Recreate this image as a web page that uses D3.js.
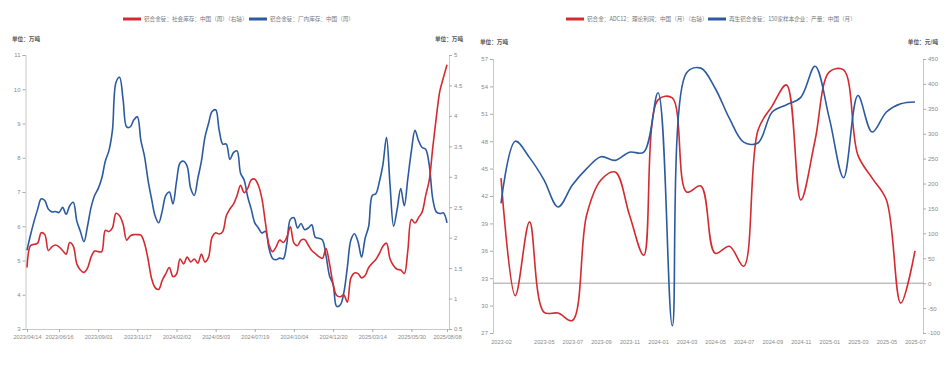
<!DOCTYPE html>
<html lang="zh">
<head>
<meta charset="UTF-8">
<script src="https://cdn.jsdelivr.net/npm/d3@7"></script>
<title>铝合金锭库存 / ADC12 利润与产量</title>
<style>
  body { margin: 0; background: #fff; }
  text { font-family: "Noto Sans CJK SC", "Liberation Sans", sans-serif; }
</style>
</head>
<body>
<script>
// ---------- 左图：铝合金锭库存（周） ----------
var weekStart1 = "2023/04/14"
var weekEnd1 = "2025/08/08"
var skipWeeks1 = ["2024/02/09", "2024/02/16", "2025/01/31"]   // 春节停更
var tickLabels1 = ["2023/04/14", "2023/06/16", "2023/09/01", "2023/11/17", "2024/02/02", "2024/05/03",
                   "2024/07/19", "2024/10/04", "2024/12/20", "2025/03/14", "2025/05/30", "2025/08/08"]
// 社会库存（右轴），万吨
var social1 = [1.51, 1.87, 1.89, 1.91, 2.08, 2.05, 1.79, 1.85, 1.88, 1.85,
               1.79, 1.73, 1.92, 1.86, 1.57, 1.47, 1.43, 1.5, 1.68, 1.78,
               1.77, 1.77, 2.12, 2.1, 2.16, 2.4, 2.36, 2.22, 1.96, 2.03,
               2.05, 2.05, 2.04, 1.91, 1.65, 1.33, 1.18, 1.15, 1.3, 1.41,
               1.51, 1.36, 1.4, 1.65, 1.57, 1.68, 1.6, 1.65, 1.58, 1.73,
               1.6, 1.68, 2.01, 2.08, 2.06, 2.1,
               2.36, 2.47, 2.55, 2.69, 2.86, 2.74, 2.81, 2.95, 2.96, 2.86,
               2.64, 2.24, 1.88, 1.77, 1.85, 1.96, 1.92, 2.01, 2.18, 1.91,
               1.87, 1.96, 1.97, 1.88, 1.79, 1.74, 1.69, 1.66, 1.82, 1.57,
               1.24, 1.05, 1.03, 1.06, 0.94, 1.34, 1.42, 1.41, 1.34, 1.38,
               1.51, 1.58, 1.64, 1.74, 1.86, 1.91, 1.65, 1.54, 1.48, 1.47,
               1.41, 1.79, 2.3, 2.24, 2.33, 2.42, 2.69, 2.94, 3.48, 3.98,
               4.41, 4.63, 4.84]
// 厂内库存（左轴），万吨
var factory1 = [5.3, 5.75, 6.15, 6.5, 6.8, 6.75, 6.5, 6.42, 6.43, 6.4,
                6.55, 6.35, 6.6, 6.7, 6.15, 5.85, 5.55, 6.0, 6.55, 6.9,
                7.1, 7.4, 7.9, 8.2, 8.8, 10.2, 10.35, 9.7, 8.9, 8.9,
                9.1, 9.2, 8.5, 8.05, 7.35, 6.8, 6.3, 6.1, 6.45, 6.9,
                7.0, 6.65, 7.3, 7.85, 7.9, 7.75, 7.1, 6.9, 7.4, 7.9,
                8.6, 9.0, 9.35, 9.4, 8.8, 8.4,
                8.4, 7.95, 8.15, 8.2, 7.55, 7.35, 6.86, 6.5, 6.1, 5.95,
                5.8, 5.85, 5.35, 5.06, 5.02, 5.07, 5.05, 5.5, 6.2, 6.25,
                5.95, 6.08, 5.9, 5.95, 6.04, 5.68, 5.65, 5.6, 5.15, 4.55,
                4.3, 3.66, 3.7, 4.05, 4.8, 5.6, 5.78, 5.55, 5.1, 5.65,
                6.0, 6.9, 6.95, 7.3, 7.8, 8.6, 7.2, 6.0, 6.5, 7.1,
                6.6, 7.4, 8.2, 8.8, 8.5, 8.3, 8.25, 7.8, 6.8, 6.42,
                6.37, 6.39, 6.1]
var leftTicks1 = [3, 4, 5, 6, 7, 8, 9, 10, 11]
var rightTicks1 = [0.5, 1, 1.5, 2, 2.5, 3, 3.5, 4, 4.5, 5]

// ---------- 右图：ADC12 利润与再生铝合金锭产量（月） ----------
var monthStart2 = "2023-02"
var monthEnd2 = "2025-07"
var tickLabels2 = ["2023-02", "2023-05", "2023-07", "2023-09", "2023-11", "2024-01", "2024-03", "2024-05",
                   "2024-07", "2024-09", "2024-11", "2025-01", "2025-03", "2025-05", "2025-07"]
// 理论利润（右轴），元/吨
var profit2 = [211, -25, 123, -58, -60, -75, 137, 207, 223, 137,
               56, 368, 372, 183, 195, 60, 74, 34, 307, 356,
               398, 167, 287, 424, 428, 257, 211, 167, -40, 65]
// 150家样本企业产量（左轴），万吨
var output2 = [41.2, 48.0, 46.2, 43.8, 40.8, 43.2, 45.0, 46.3, 45.9, 46.8,
               46.8, 53.3, 27.8, 55.5, 56.0, 53.8, 50.5, 47.9, 47.8, 51.2,
               52.0, 52.8, 56.2, 50.5, 44.0, 53.0, 49.0, 51.2, 52.1, 52.3]
var leftTicks2 = [27, 30, 33, 36, 39, 42, 45, 48, 51, 54, 57]
var rightTicks2 = [-100, -50, 0, 50, 100, 150, 200, 250, 300, 350, 400, 450]

var RED = "#d42a30"
var BLUE = "#2c5aa0"
var AXIS = "#c8c8c8"
var LABEL = "#8a8a8a"

var width = 949, height = 369

var svg = d3.select("body").append("svg")
    .attr("width", width)
    .attr("height", height)
    .style("background", "#fff")

// 周度日期（跳过春节停更周）
var fmt1 = d3.timeFormat("%Y/%m/%d"), parse1 = d3.timeParse("%Y/%m/%d")
var dates1 = d3.timeDay.range(parse1(weekStart1), d3.timeDay.offset(parse1(weekEnd1), 1), 7)
    .map(fmt1)
    .filter(function (d) { return skipWeeks1.indexOf(d) < 0 })

var fmt2 = d3.timeFormat("%Y-%m"), parse2 = d3.timeParse("%Y-%m")
var months2 = d3.timeMonth.range(parse2(monthStart2), d3.timeMonth.offset(parse2(monthEnd2), 1)).map(fmt2)

function styleAxis(g, fontSize) {
    g.select(".domain").attr("stroke", AXIS)
    g.selectAll(".tick line").attr("stroke", "#aaa")
    g.selectAll(".tick text")
        .attr("fill", LABEL)
        .style("font-family", "'Liberation Sans', sans-serif")
        .style("font-size", fontSize + "px")
}

function legend(items, y) {
    items.forEach(function (it) {
        svg.append("line")
            .attr("x1", it.x).attr("x2", it.x + 18)
            .attr("y1", y).attr("y2", y)
            .attr("stroke", it.color).attr("stroke-width", 3)
        svg.append("text")
            .attr("x", it.x + 21).attr("y", y)
            .attr("dy", "0.35em")
            .attr("fill", "#777")
            .style("font-size", "5.6px")
            .text(it.text)
    })
}

function unitLabel(text, x, y, anchor) {
    svg.append("text")
        .attr("x", x).attr("y", y)
        .attr("text-anchor", anchor)
        .attr("fill", "#555")
        .style("font-size", "5.6px")
        .style("font-weight", "bold")
        .text(text)
}

// =============== 左图 ===============
var left1 = 25.5, right1 = 449, top1 = 55, bottom1 = 329

var x1 = d3.scalePoint()
    .domain(dates1)
    .range([27, 447])
var yL1 = d3.scaleLinear().domain([3, 11]).range([bottom1, top1])
var yR1 = d3.scaleLinear().domain([0.5, 5]).range([bottom1, top1])

svg.append("g")
    .attr("transform", "translate(" + left1 + ",0)")
    .call(d3.axisLeft(yL1).tickValues(leftTicks1).tickSize(3).tickPadding(2).tickFormat(function (d) { return d }))
    .call(styleAxis, 6)

svg.append("g")
    .attr("transform", "translate(" + right1 + ",0)")
    .call(d3.axisRight(yR1).tickValues(rightTicks1).tickSize(3).tickPadding(2).tickFormat(function (d) { return d }))
    .call(styleAxis, 6)

var xAxis1 = svg.append("g")
    .attr("transform", "translate(0," + bottom1 + ")")
    .call(d3.axisBottom(x1).tickValues(tickLabels1).tickSize(3).tickPadding(3).tickSizeOuter(0))
    .call(styleAxis, 5.6)
xAxis1.select(".domain").attr("d", "M" + left1 + ",0.5H" + right1)

var lineR1 = d3.line()
    .x(function (d, i) { return x1(dates1[i]) })
    .y(function (d) { return yR1(d) })
    .curve(d3.curveCatmullRom)
var lineL1 = d3.line()
    .x(function (d, i) { return x1(dates1[i]) })
    .y(function (d) { return yL1(d) })
    .curve(d3.curveCatmullRom)

svg.append("path").datum(factory1)
    .attr("d", lineL1).attr("fill", "none")
    .attr("stroke", BLUE).attr("stroke-width", 1.6)
svg.append("path").datum(social1)
    .attr("d", lineR1).attr("fill", "none")
    .attr("stroke", RED).attr("stroke-width", 1.6)

legend([
    { x: 123, color: RED, text: "铝合金锭：社会库存：中国（周）（右轴）" },
    { x: 249, color: BLUE, text: "铝合金锭：厂内库存：中国（周）" }
], 19)
unitLabel("单位：万吨", 12, 41, "start")
unitLabel("单位：万吨", 463, 41, "end")

// =============== 右图 ===============
var left2 = 493, right2 = 923, top2 = 59, bottom2 = 333

var x2 = d3.scalePoint()
    .domain(months2)
    .range([501, 915])
var yL2 = d3.scaleLinear().domain([27, 57]).range([bottom2, top2])
var yR2 = d3.scaleLinear().domain([-100, 450]).range([bottom2, top2])

svg.append("g")
    .attr("transform", "translate(" + left2 + ",0)")
    .call(d3.axisLeft(yL2).tickValues(leftTicks2).tickSize(3).tickPadding(2))
    .call(styleAxis, 6)

svg.append("g")
    .attr("transform", "translate(" + right2 + ",0)")
    .call(d3.axisRight(yR2).tickValues(rightTicks2).tickSize(3).tickPadding(2).tickFormat(function (d) { return d }))
    .call(styleAxis, 6)

var xAxis2 = svg.append("g")
    .attr("transform", "translate(0," + bottom2 + ")")
    .call(d3.axisBottom(x2).tickValues(tickLabels2).tickSize(0).tickPadding(7))
    .call(styleAxis, 5.6)
xAxis2.select(".domain").remove()

// 零线
svg.append("line")
    .attr("x1", left2).attr("x2", right2)
    .attr("y1", yR2(0)).attr("y2", yR2(0))
    .attr("stroke", "#a0a0a0").attr("stroke-width", 1)

var lineL2 = d3.line()
    .x(function (d, i) { return x2(months2[i]) })
    .y(function (d) { return yL2(d) })
    .curve(d3.curveCatmullRom)
var lineR2 = d3.line()
    .x(function (d, i) { return x2(months2[i]) })
    .y(function (d) { return yR2(d) })
    .curve(d3.curveCatmullRom)

svg.append("path").datum(profit2)
    .attr("d", lineR2).attr("fill", "none")
    .attr("stroke", RED).attr("stroke-width", 1.6)
svg.append("path").datum(output2)
    .attr("d", lineL2).attr("fill", "none")
    .attr("stroke", BLUE).attr("stroke-width", 1.6)

legend([
    { x: 566, color: RED, text: "铝合金：ADC12：理论利润：中国（月）（右轴）" },
    { x: 708, color: BLUE, text: "再生铝合金锭：150家样本企业：产量：中国（月）" }
], 19)
unitLabel("单位：万吨", 480, 44, "start")
unitLabel("单位：元/吨", 938, 44, "end")
</script>
</body>
</html>
